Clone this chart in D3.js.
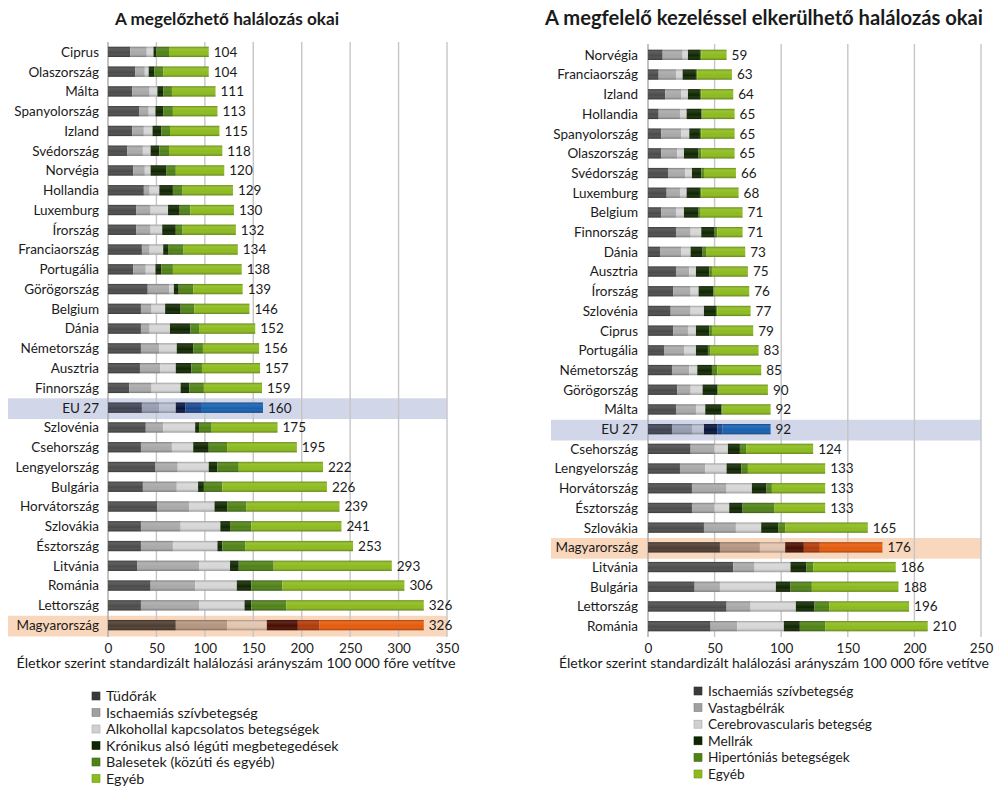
<!DOCTYPE html>
<html>
<head>
<meta charset="utf-8">
<script src="https://cdn.jsdelivr.net/npm/d3@7/dist/d3.min.js"></script>
<style>
  html, body { margin: 0; padding: 0; background: #fff; }
  svg { display: block; font-family: Lato, "Open Sans", sans-serif; }
</style>
</head>
<body>
<svg id="chart" width="994" height="787"></svg>
<script>
// ---- Megelőzhető halálozás (bal oldali panel) ----
const leftCountries = ["Ciprus","Olaszország","Málta","Spanyolország","Izland","Svédország","Norvégia","Hollandia","Luxemburg","Írország","Franciaország","Portugália","Görögország","Belgium","Dánia","Németország","Ausztria","Finnország","EU 27","Szlovénia","Csehország","Lengyelország","Bulgária","Horvátország","Szlovákia","Észtország","Litvánia","Románia","Lettország","Magyarország"];
const leftTudorak  = [23,28,25,32,25,20,26,37,29,29,35,26,41,34,34,34,33,22,35,39,34,49,36,51,34,34,30,44,34,70];
const leftIschaemia = [17,10,18,10,12,16,12,6,15,15,8,13,22,11,9,19,21,23,18,18,32,23,35,33,41,33,64,46,60,53];
const leftAlkohol  = [7,4,8,7,9,8,6,10,18,12,14,10,5,14,21,18,16,30,17,33,22,32,22,26,41,46,32,43,47,41];
const leftKronikus = [3,6,6,8,9,9,16,14,12,14,5,6,5,16,21,17,16,9,10,4,16,9,6,13,10,5,9,15,7,32];
const leftBaleset  = [13,9,9,10,9,10,10,10,11,7,16,12,15,14,9,10,11,15,16,13,19,22,19,20,22,24,36,32,36,22];
const leftEgyeb    = [41,47,45,46,51,55,50,52,45,55,56,71,51,57,58,58,60,60,64,68,72,87,108,96,93,111,122,126,142,108];
const leftLegend = ["Tüdőrák","Ischaemiás szívbetegség","Alkohollal kapcsolatos betegségek","Krónikus alsó légúti megbetegedések","Balesetek (közúti és egyéb)","Egyéb"];
const leftTicks = [0,50,100,150,200,250,300,350];

// ---- Kezeléssel elkerülhető halálozás (jobb oldali panel) ----
const rightCountries = ["Norvégia","Franciaország","Izland","Hollandia","Spanyolország","Olaszország","Svédország","Luxemburg","Belgium","Finnország","Dánia","Ausztria","Írország","Szlovénia","Ciprus","Portugália","Németország","Görögország","Málta","EU 27","Csehország","Lengyelország","Horvátország","Észtország","Szlovákia","Magyarország","Litvánia","Bulgária","Lettország","Románia"];
const rightIschaemia = [11,8,13,8,10,10,15,14,10,21,9,21,19,17,19,12,18,22,21,18,32,24,33,33,42,54,64,35,59,47];
const rightVastagbel = [15,13,12,16,15,12,13,10,11,11,16,10,13,15,11,15,13,10,15,15,18,19,26,17,24,30,16,19,18,20];
const rightCerebro   = [4,5,5,5,6,5,5,5,6,8,7,5,6,10,6,9,6,9,7,9,10,16,19,11,19,19,27,42,34,35];
const rightMellrak   = [9,10,9,11,8,11,7,10,11,10,9,10,11,9,10,9,11,11,12,10,9,11,11,10,13,14,12,11,14,12];
const rightHipertonia = [1,1,1,1,1,2,2,1,1,2,3,2,1,1,2,2,4,1,1,4,5,5,4,24,5,12,5,16,11,19];
const rightEgyeb     = [19,26,24,24,25,25,24,28,32,19,29,27,26,25,31,36,33,37,36,36,50,58,40,38,62,47,62,65,60,77];
const rightLegend = ["Ischaemiás szívbetegség","Vastagbélrák","Cerebrovascularis betegség","Mellrák","Hipertóniás betegségek","Egyéb"];
const rightTicks = [0,50,100,150,200,250];

const axisTitle = "Életkor szerint standardizált halálozási arányszám 100 000 főre vetítve";

// colour ramps: normal rows, EU row, Hungary row
const palette = {
  normal:  ["#4b4b4b","#a9a9a9","#d6d6d6","#0f2600","#4f8215","#8cbb1c"],
  eu:      ["#3e4352","#959cb0","#b9bfd0","#06143a","#18468e","#1560b0"],
  hu:      ["#4d3b30","#b4947f","#e2c4ae","#4a0c00","#b23a08","#e65a0a"]
};
const legendColors = ["#3a3a3a","#a0a0a0","#d0d0d0","#0f2600","#4f8215","#8cbb1c"];
const bandColors = { eu: "#ccd2e6", hu: "#f7d3b6" };

const svg = d3.select("#chart");
const defs = svg.append("defs");
const shade = defs.append("linearGradient").attr("id","shade").attr("x1",0).attr("y1",0).attr("x2",0).attr("y2",1);
shade.append("stop").attr("offset","0%").attr("stop-color","#000").attr("stop-opacity",0.28);
shade.append("stop").attr("offset","25%").attr("stop-color","#fff").attr("stop-opacity",0.10);
shade.append("stop").attr("offset","60%").attr("stop-color","#fff").attr("stop-opacity",0.0);
shade.append("stop").attr("offset","100%").attr("stop-color","#000").attr("stop-opacity",0.30);

function panel(cfg) {
  const g = svg.append("g");
  const series = cfg.series;
  const rows = cfg.countries.map((c, i) => {
    const vals = series.map(s => s[i]);
    return { name: c, vals, total: d3.sum(vals) };
  });

  const x = d3.scaleLinear().domain([0, cfg.max]).range([cfg.x0, cfg.x1]);
  const y = d3.scaleBand().domain(cfg.countries).range([cfg.yTop, cfg.yBottom]).paddingInner(0.48).paddingOuter(0.24);
  const step = y.step();

  // title
  g.append("text").attr("x", cfg.titleX).attr("y", 25)
    .attr("text-anchor","middle").attr("font-size", cfg.titleSize).attr("font-weight", 700)
    .attr("fill","#1b1b1b").text(cfg.title);

  // highlight bands
  rows.forEach(r => {
    const kind = r.name === "EU 27" ? "eu" : (r.name === "Magyarország" ? "hu" : null);
    if (!kind) return;
    g.append("rect")
      .attr("x", cfg.bandX).attr("width", cfg.x1 - cfg.bandX)
      .attr("y", y(r.name) + y.bandwidth()/2 - step/2 + 0.5).attr("height", step + 1)
      .attr("fill", bandColors[kind]).attr("opacity", 0.9);
  });

  // gridlines
  g.append("g").selectAll("line").data(cfg.ticks).join("line")
    .attr("x1", d => x(d)).attr("x2", d => x(d))
    .attr("y1", cfg.gridTop).attr("y2", cfg.gridBottom)
    .attr("stroke", d => d === 0 ? "#a9a9a9" : "#c6c6c6").attr("stroke-width", 1.4);

  // bars
  rows.forEach(r => {
    const kind = r.name === "EU 27" ? "eu" : (r.name === "Magyarország" ? "hu" : "normal");
    const cols = palette[kind];
    let acc = 0;
    const by = y(r.name);
    const bh = y.bandwidth();
    r.vals.forEach((v, k) => {
      g.append("rect")
        .attr("x", x(acc)).attr("y", by)
        .attr("width", x(acc + v) - x(acc)).attr("height", bh)
        .attr("fill", cols[k]);
      acc += v;
    });
    g.append("rect")
      .attr("x", x(0)).attr("y", by).attr("width", x(r.total) - x(0)).attr("height", bh)
      .attr("fill", "url(#shade)");
    // total value label
    g.append("text").attr("x", x(r.total) + 5).attr("y", by + bh/2)
      .attr("dy", "0.36em").attr("font-size", cfg.textSize).attr("fill", "#1b1b1b").text(r.total);
    // country label
    g.append("text").attr("x", cfg.labelX).attr("y", by + bh/2)
      .attr("dy", "0.36em").attr("text-anchor","end").attr("font-size", cfg.textSize)
      .attr("fill", "#1b1b1b").text(r.name);
  });

  // x axis tick labels
  const axis = d3.axisBottom(x).tickValues(cfg.ticks).tickSize(0).tickPadding(0);
  const ag = g.append("g").attr("transform", `translate(0,${cfg.tickY})`).call(axis);
  ag.select(".domain").remove();
  ag.selectAll("text").attr("font-size", cfg.textSize).attr("fill", "#1b1b1b")
    .attr("font-family", "Lato, 'Open Sans', sans-serif");

  // axis title
  g.append("text").attr("x", cfg.axisTitleX).attr("y", cfg.axisTitleY)
    .attr("text-anchor","middle").attr("font-size", cfg.axisTitleSize).attr("fill","#1b1b1b").text(axisTitle);

  // legend
  const lg = g.append("g").attr("transform", `translate(${cfg.legendX},${cfg.legendY})`);
  cfg.legend.forEach((name, i) => {
    const yy = i * cfg.legendStep;
    lg.append("rect").attr("x", 0).attr("y", yy - 4).attr("width", 8).attr("height", 8)
      .attr("fill", legendColors[i]).attr("stroke", d3.color(legendColors[i]).darker(0.6)).attr("stroke-width", 0.6);
    lg.append("text").attr("x", 14).attr("y", yy).attr("dy","0.36em")
      .attr("font-size", cfg.legendSize).attr("fill","#1b1b1b").text(name);
  });
}

panel({
  title: "A megelőzhető halálozás okai", titleX: 227, titleSize: 17.2,
  countries: leftCountries,
  series: [leftTudorak, leftIschaemia, leftAlkohol, leftKronikus, leftBaleset, leftEgyeb],
  max: 350, ticks: leftTicks,
  x0: 108, x1: 447,
  yTop: 42, yBottom: 635,
  gridTop: 42, gridBottom: 637,
  bandX: 8, labelX: 99, textSize: 13.5,
  tickY: 643, axisTitleX: 236, axisTitleY: 668, axisTitleSize: 14.3,
  legend: leftLegend, legendX: 92, legendY: 696, legendStep: 16.5, legendSize: 14.3
});

panel({
  title: "A megfelelő kezeléssel elkerülhető halálozás okai", titleX: 764, titleSize: 20.2,
  countries: rightCountries,
  series: [rightIschaemia, rightVastagbel, rightCerebro, rightMellrak, rightHipertonia, rightEgyeb],
  max: 250, ticks: rightTicks,
  x0: 648, x1: 981,
  yTop: 45, yBottom: 636,
  gridTop: 44, gridBottom: 637,
  bandX: 551, labelX: 638, textSize: 13.5,
  tickY: 643, axisTitleX: 774, axisTitleY: 668, axisTitleSize: 14,
  legend: rightLegend, legendX: 694, legendY: 691, legendStep: 16.6, legendSize: 13.7
});
</script>
</body>
</html>
